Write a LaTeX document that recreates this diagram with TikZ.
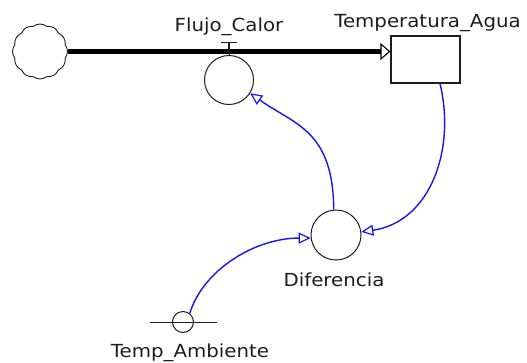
\documentclass[tikz,border=0pt]{standalone}
\usepackage{fontspec}
\setmainfont{DejaVu Sans}
\usetikzlibrary{arrows.meta,shapes.symbols}
\definecolor{ink}{RGB}{30,28,34}
\definecolor{linkblue}{RGB}{20,20,255}
\tikzset{
  cloudnode/.style={cloud, cloud puffs=12, cloud puff arc=75, aspect=1, draw=ink, line width=0.9pt, minimum width=55pt, minimum height=55pt, inner sep=0pt},
  stocknode/.style={draw=ink, line width=1.2pt, minimum width=69pt, minimum height=47pt, inner sep=0pt},
  auxnode/.style={circle, draw=ink, line width=1pt, inner sep=0pt},
  lbl/.style={text=ink, anchor=base, inner sep=0pt, font=\fontsize{18}{21}\selectfont},
  flowline/.style={draw=black, line width=4.5pt, -{Triangle[open, length=10pt, width=17pt, line width=1.1pt]}},
  linkline/.style={draw=linkblue, line width=1.4pt, -{Triangle[open, length=12pt, width=11pt, line width=1.2pt]}}
}
\newcommand{\wtxt}[1]{\scalebox{1.1}[1]{#1}}
\begin{document}
\begin{tikzpicture}[x=1pt,y=-1pt]
\useasboundingbox (0,0) rectangle (527,362);
% nodes
\node[cloudnode] (src) at (40,51.5) {};
\node[stocknode] (agua) at (425.5,59.5) {};
\node[auxnode, minimum size=49pt] (flujo) at (229,80) {};
\node[auxnode, minimum size=50pt] (dif) at (336,235) {};
\node[auxnode, minimum size=21pt] (amb) at (183,322) {};
% labels
\node[lbl] (lflujo) at (229,31) {\wtxt{Flujo\_Calor}};
\node[lbl] (lagua) at (427.5,27) {\wtxt{Temperatura\_Agua}};
\node[lbl] (ldif) at (334,286) {\wtxt{Diferencia}};
\node[lbl] (lamb) at (190,357.5) {\wtxt{Temp\_Ambiente}};
% flow
\draw[flowline] (src.east) -- (src.east -| agua.west);
% valve T
\coordinate (vtop) at (229,42.5);
\draw[ink, line width=1.6pt] ([xshift=-8pt]vtop) -- ([xshift=8pt]vtop);
\draw[ink, line width=1.8pt] (vtop) -- (229,51.5);
\draw[ink, line width=1pt] (flujo.north) -- (229,51.5);
% ambient constant bar
\coordinate (ambL) at (150,322);
\coordinate (ambR) at (217,322);
\draw[ink, line width=1pt] (ambL) -- (ambR);
% links
\draw[linkline] ([xshift=14.5pt]agua.south) .. controls (456,150) and (430,222) .. (dif.7);
\draw[linkline] (dif.95) .. controls (333,130) and (295,125) .. (flujo.-32);
\draw[linkline] (amb.52) .. controls (203,270) and (255,238) .. (dif.187);
\end{tikzpicture}
\end{document}
